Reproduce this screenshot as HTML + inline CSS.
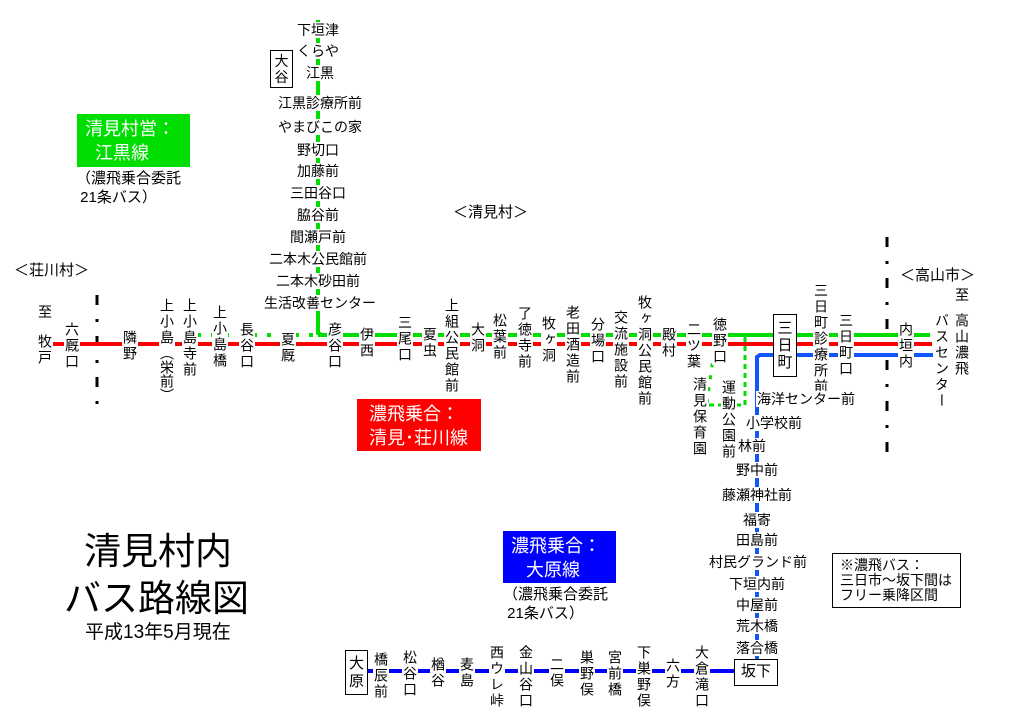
<!DOCTYPE html>
<html><head><meta charset="utf-8"><style>
body{margin:0;width:1024px;height:723px;background:#fff;position:relative;overflow:hidden;font-family:"Liberation Sans","Noto Sans CJK JP",sans-serif;color:#000}
.a{position:absolute;white-space:nowrap}
.v{position:absolute;writing-mode:vertical-rl;font-size:14px;line-height:16px;width:16px;letter-spacing:2px;background:#fff;text-align:start}
.h{position:absolute;font-size:14px;line-height:16px;background:#fff;transform:translate(-50%,-50%);white-space:nowrap;padding:0 1px}
.box{position:absolute;border:1.5px solid #000;background:#fff;box-sizing:border-box}
.bx{position:absolute;border:1.5px solid #000;background:#fff;box-sizing:border-box;text-align:center;font-size:15px;line-height:18px}
</style></head><body>
<svg width="1024" height="723" style="position:absolute;left:0;top:0">
<line x1="97" y1="295" x2="97" y2="412" stroke="#000" stroke-width="3" stroke-dasharray="10 14 3 14"/>
<line x1="887" y1="237" x2="887" y2="456" stroke="#000" stroke-width="3" stroke-dasharray="10 14 3 14"/>
<line x1="50" y1="344" x2="932" y2="344" stroke="#f00" stroke-width="4"/>
<line x1="197" y1="335" x2="316" y2="335" stroke="#0d0" stroke-width="4" stroke-dasharray="4 10"/>
<line x1="318" y1="335" x2="930" y2="335" stroke="#0d0" stroke-width="4"/>
<polyline points="318,20 318,333 322,335" fill="none" stroke="#0d0" stroke-width="4"/>
<polyline points="745,337 745,405 708,405" fill="none" stroke="#0d0" stroke-width="3" stroke-dasharray="5 4"/>
<line x1="707" y1="403" x2="713" y2="358" stroke="#0d0" stroke-width="3" stroke-dasharray="4 8"/>
<polyline points="757,668 757,357 760,355 933,355" fill="none" stroke="#15f" stroke-width="4"/>
<line x1="360" y1="671" x2="740" y2="671" stroke="#00f" stroke-width="4"/>
</svg>

<div class="h" style="left:318px;top:30px">下垣津</div>
<div class="h" style="left:318px;top:51px">くらや</div>
<div class="h" style="left:320px;top:73px">江黒</div>
<div class="h" style="left:320px;top:103px">江黒診療所前</div>
<div class="h" style="left:320px;top:127px">やまびこの家</div>
<div class="h" style="left:318px;top:150px">野切口</div>
<div class="h" style="left:318px;top:171px">加藤前</div>
<div class="h" style="left:318px;top:193px">三田谷口</div>
<div class="h" style="left:318px;top:215px">脇谷前</div>
<div class="h" style="left:318px;top:237px">間瀬戸前</div>
<div class="h" style="left:318px;top:259px">二本木公民館前</div>
<div class="h" style="left:318px;top:281px">二本木砂田前</div>
<div class="h" style="left:320px;top:303px">生活改善センター</div>
<div class="bx" style="left:270px;top:50px;width:23px;height:38px;font-size:14px;line-height:16px;padding-top:2px">大<br>谷</div>

<div class="a" style="left:38px;top:302px;font-size:14px">至</div>
<div class="v" style="left:37px;top:334px">牧戸</div>
<div class="v" style="left:64px;top:322px">六厩口</div>
<div class="v" style="left:122px;top:330px">隣野</div>
<div class="v" style="left:159px;top:298px">上小島<span style="letter-spacing:0">（栄前）</span></div>
<div class="v" style="left:182px;top:298px">上小島寺前</div>
<div class="v" style="left:212px;top:305px">上小島橋</div>
<div class="v" style="left:239px;top:322px">長谷口</div>
<div class="v" style="left:280px;top:332px">夏厩</div>
<div class="v" style="left:327px;top:322px">彦谷口</div>
<div class="v" style="left:359px;top:327px">伊西</div>
<div class="v" style="left:397px;top:315px">三尾口</div>
<div class="v" style="left:422px;top:327px">夏虫</div>
<div class="v" style="left:444px;top:298px">上組公民館前</div>
<div class="v" style="left:470px;top:322px">大洞</div>
<div class="v" style="left:492px;top:313px">松葉前</div>
<div class="v" style="left:517px;top:306px">了徳寺前</div>
<div class="v" style="left:541px;top:316px">牧ヶ洞</div>
<div class="v" style="left:565px;top:305px">老田酒造前</div>
<div class="v" style="left:590px;top:317px">分場口</div>
<div class="v" style="left:613px;top:310px">交流施設前</div>
<div class="v" style="left:637px;top:295px">牧ヶ洞公民館前</div>
<div class="v" style="left:661px;top:327px">殿村</div>
<div class="v" style="left:686px;top:322px">二ツ葉</div>
<div class="v" style="left:712px;top:317px">徳野口</div>
<div class="v" style="left:692px;top:377px">清見保育園</div>
<div class="v" style="left:721px;top:380px">運動公園前</div>
<div class="bx" style="left:773px;top:314px;width:24px;height:63px;padding-top:5px;line-height:17px">三<br>日<br>町</div>
<div class="v" style="left:813px;top:283px">三日町診療所前</div>
<div class="v" style="left:838px;top:313px">三日町口</div>
<div class="v" style="left:898px;top:322px">内垣内</div>
<div class="v" style="left:934px;top:313px">バスセンター</div>
<div class="a" style="left:955px;top:285px;font-size:14px">至</div>
<div class="v" style="left:954px;top:313px">高山濃飛</div>

<div class="h" style="left:806px;top:399px">海洋センター前</div>
<div class="h" style="left:774px;top:423px">小学校前</div>
<div class="h" style="left:752px;top:446px">林前</div>
<div class="h" style="left:757px;top:470px">野中前</div>
<div class="h" style="left:757px;top:495px">藤瀬神社前</div>
<div class="h" style="left:757px;top:520px">福寄</div>
<div class="h" style="left:757px;top:540px">田島前</div>
<div class="h" style="left:758px;top:562px">村民グランド前</div>
<div class="h" style="left:757px;top:584px">下垣内前</div>
<div class="h" style="left:757px;top:605px">中屋前</div>
<div class="h" style="left:757px;top:626px">荒木橋</div>
<div class="h" style="left:757px;top:648px">落合橋</div>
<div class="bx" style="left:734px;top:659px;width:44px;height:27px;line-height:24px">坂下</div>

<div class="bx" style="left:345px;top:650px;width:23px;height:45px;padding-top:4px">大<br>原</div>
<div class="v" style="left:373px;top:652px">橋辰前</div>
<div class="v" style="left:402px;top:650px">松谷口</div>
<div class="v" style="left:430px;top:657px">楢谷</div>
<div class="v" style="left:459px;top:657px">麦島</div>
<div class="v" style="left:489px;top:645px">西ウレ峠</div>
<div class="v" style="left:518px;top:645px">金山谷口</div>
<div class="v" style="left:549px;top:657px">二俣</div>
<div class="v" style="left:579px;top:650px">巣野俣</div>
<div class="v" style="left:607px;top:650px">宮前橋</div>
<div class="v" style="left:636px;top:645px">下巣野俣</div>
<div class="v" style="left:665px;top:658px">六方</div>
<div class="v" style="left:694px;top:645px">大倉滝口</div>

<div class="a" style="left:453px;top:201px;font-size:15px">＜清見村＞</div>
<div class="a" style="left:14px;top:259px;font-size:15px">＜荘川村＞</div>
<div class="a" style="left:900px;top:264px;font-size:15px">＜高山市＞</div>

<div class="a" style="left:77px;top:114px;width:113px;height:53px;background:#0d0;color:#fff;font-size:18px;line-height:24px;padding:3px 0 0 8px;box-sizing:border-box">清見村営：<br>&nbsp;&nbsp;江黒線</div>
<div class="a" style="left:76px;top:169px;font-size:15px;line-height:19px">（濃飛乗合委託<br>&nbsp;21条バス）</div>
<div class="a" style="left:357px;top:399px;width:124px;height:52px;background:#f00;color:#fff;font-size:18px;line-height:24px;padding:3px 0 0 12px;box-sizing:border-box">濃飛乗合：<br>清見･荘川線</div>
<div class="a" style="left:503px;top:531px;width:113px;height:52px;background:#00f;color:#fff;font-size:18px;line-height:24px;padding:3px 0 0 8px;box-sizing:border-box">濃飛乗合：<br>&nbsp;&nbsp;&nbsp;大原線</div>
<div class="a" style="left:503px;top:585px;font-size:15px;line-height:19px">（濃飛乗合委託<br>&nbsp;21条バス）</div>

<div class="a" style="left:84px;top:530px;font-size:37px;line-height:44px">清見村内</div>
<div class="a" style="left:64px;top:577px;font-size:37px;line-height:44px">バス路線図</div>
<div class="a" style="left:85px;top:622px;font-size:19px;line-height:22px">平成13年5月現在</div>

<div class="box" style="left:832px;top:553px;width:129px;height:55px;font-size:14px;line-height:15px;padding:4px 0 0 7px">※濃飛バス：<br>三日市～坂下間は<br>フリー乗降区間</div>
</body></html>
